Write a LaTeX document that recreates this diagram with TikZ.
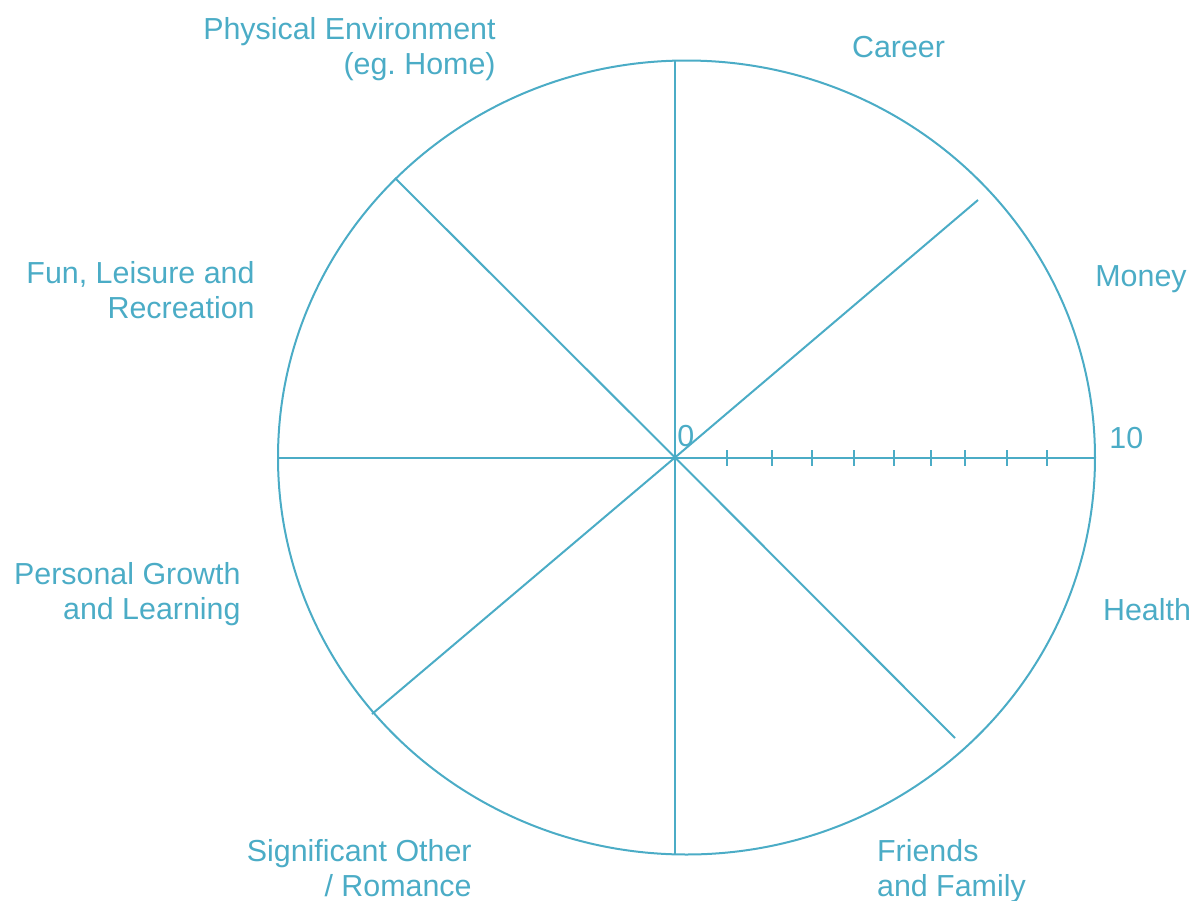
\documentclass[tikz,border=0pt]{standalone}
\usepackage{fontspec}
\setmainfont{Liberation Sans}
\usetikzlibrary{positioning}
\definecolor{wheel}{RGB}{75,172,198}
\tikzset{
  lbl/.style={text=wheel, inner sep=0pt, font=\fontsize{15.2}{17.3}\selectfont},
  spoke/.style={draw=wheel, line width=1pt}
}

\begin{document}
\begin{tikzpicture}[x=0.5pt, y=-0.5pt]
\useasboundingbox (0,0) rectangle (1191,901);
% rim and hub
\coordinate (c) at (675,457.5);
\draw[spoke] (686.5,457.5) ellipse [x radius=408.5, y radius=397];
% spoke ends
\coordinate (n) at (675,60.7);
\coordinate (s) at (675,854);
\coordinate (w) at (278,457.5);
\coordinate (e) at (1095,457.5);
\coordinate (nw) at (395,178);
\coordinate (ne) at (978,200);
\coordinate (sw) at (372,714);
\coordinate (se) at (955,738);
\foreach \p in {n,s,w,e,nw,ne,sw,se}
  \draw[spoke] (c) -- (\p);
% scale
\foreach \t in {726.7,772,812,854,894,931,965,1007,1047}
  \draw[spoke] (\t,450) -- (\t,466);
\node[lbl, anchor=base west] (zero) at (677,446.7) {0};
\node[lbl, anchor=base west] (ten) at (1109,448.3) {10};
% areas (base = last line)
\node[lbl, anchor=base east, align=right] (home) at (496,74.5) {Physical Environment\\(eg.\ Home)};
\node[lbl, anchor=base west] (career) at (851.7,57.3) {Career};
\node[lbl, anchor=base west] (money) at (1095,286.7) {Money};
\node[lbl, anchor=base west] (health) at (1102.7,620) {Health};
\node[lbl, anchor=base west, align=left] (friends) at (876.7,896.5) {Friends\\and Family};
\node[lbl, anchor=base east, align=right] (romance) at (472,896) {Significant Other\\/ Romance};
\node[lbl, anchor=base east, align=right] (growth) at (241,619.5) {Personal Growth\\and Learning};
\node[lbl, anchor=base east, align=right] (fun) at (255,318) {Fun, Leisure and\\Recreation};
\end{tikzpicture}
\end{document}
